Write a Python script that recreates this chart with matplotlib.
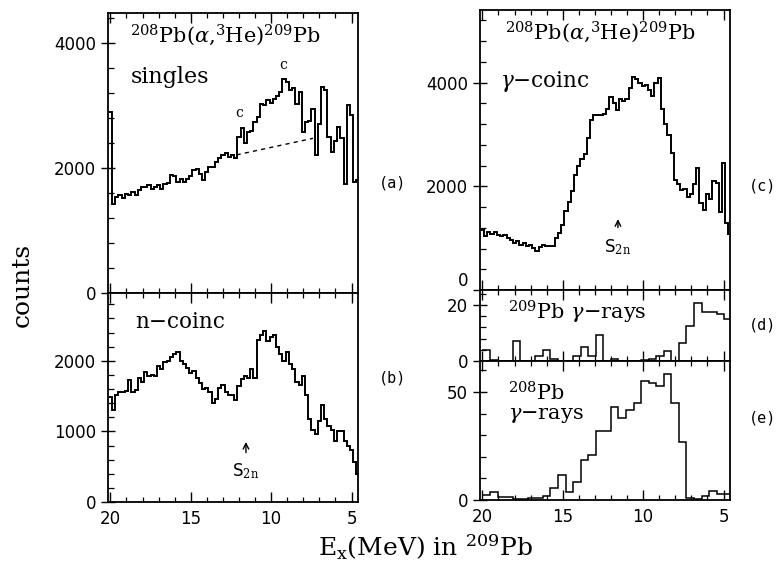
import numpy as np
import matplotlib
matplotlib.use("Agg")
import matplotlib.pyplot as plt
from matplotlib.ticker import MultipleLocator, FixedLocator

plt.rcParams['font.family'] = 'DejaVu Serif'
plt.rcParams['mathtext.fontset'] = 'dejavuserif'

# fine spectra: 0.2 MeV channels, centres 20.0, 19.8, ... 4.6 MeV
singles = [2900, 1420, 1540, 1560, 1520, 1590, 1560, 1610, 1570, 1640,
           1700, 1690, 1720, 1660, 1690, 1720, 1660, 1740, 1760, 1880,
           1870, 1780, 1830, 1780, 1830, 1870, 1960, 1980, 1900, 1800,
           1940, 2010, 2020, 2100, 2160, 2200, 2240, 2170, 2200, 2160,
           2500, 2640, 2400, 2580, 2590, 2740, 2820, 3030, 3000, 3080,
           3040, 3100, 3150, 3220, 3420, 3380, 3250, 3280, 3030, 3220,
           2580, 2740, 2750, 2950, 2200, 2700, 3300, 3250, 2500, 2250,
           2430, 2650, 2480, 1750, 3000, 2850, 1780, 1800]
n_coinc = [1490, 1300, 1520, 1560, 1560, 1570, 1730, 1560, 1590, 1750,
           1700, 1840, 1790, 1800, 1790, 1920, 1880, 1980, 1990, 2060,
           2090, 2130, 2000, 1960, 1900, 1820, 1860, 1760, 1680, 1600,
           1610, 1560, 1400, 1460, 1620, 1650, 1560, 1520, 1510, 1440,
           1640, 1740, 1780, 1760, 1880, 1760, 2300, 2370, 2420, 2280,
           2330, 2370, 2200, 2100, 2000, 2130, 1950, 1880, 1700, 1650,
           1780, 1520, 1180, 1020, 960, 1150, 1380, 1180, 1080, 1020,
           860, 1000, 1010, 860, 800, 730, 560, 400]
g_coinc = [1160, 1050, 1120, 1080, 1110, 1060, 1040, 1070, 1000, 970,
           910, 950, 870, 900, 840, 860, 810, 750, 820, 860,
           840, 840, 850, 1000, 1100, 1250, 1520, 1700, 1900, 2220,
           2400, 2520, 2620, 2930, 3280, 3370, 3380, 3380, 3400, 3500,
           3720, 3600, 3480, 3680, 3650, 3680, 3900, 4110, 4060, 4000,
           3930, 3960, 3850, 3750, 3990, 4090, 3500, 3200, 2980, 2640,
           2120, 2050, 1930, 1950, 1800, 1850, 2050, 2350, 1680, 1550,
           1850, 1760, 2110, 2060, 1500, 2450, 1300, 1080]

# coarse gamma-ray spectra: 0.47 MeV bins starting at 20 MeV
pb209_gam = [3.8, 0.5, 0, 0, 7, 0, 0, 1.7, 3.8, 0.7, 0, 0, 1.7, 4.9, 1.9,
             9.2, 0, 0.8, 0, 0, 0, 0.5, 0.8, 1.9, 3.5, 0, 6.4, 12.4, 20.7,
             17.7, 17.5, 16.8, 15.0]
pb208_gam = [2.5, 3.5, 1.2, 1.5, 0.3, 0.5, 0.8, 1.0, 2.0, 5.5, 11.5, 3.5,
             8.5, 18.5, 21, 32, 32, 43, 38, 41.5, 45, 55, 54, 53, 58.5, 45,
             27, 1, 0.3, 2, 4, 3, 3]

# dashed background line under the (a) peaks, and S2n
bg_x = [12.15, 7.4]
bg_y = [2210, 2475]
s2n = 11.57

fine_edges = 20.1 - 0.2 * np.arange(len(singles) + 1)
coarse_edges = 20.0 - 0.47 * np.arange(len(pb208_gam) + 1)

W, H = 782, 564
fig = plt.figure(figsize=(7.82, 5.64), dpi=100)


def panel(x0, y0, x1, y1):
    # pixel box (left, top, right, bottom) -> axes
    return fig.add_axes([x0 / W, 1 - y1 / H, (x1 - x0) / W, (y1 - y0) / H])


def style(ax, ytop, ymaj, ymin, xlabels):
    ax.set_xlim(20.15, 4.6)
    ax.set_ylim(0, ytop)
    ax.xaxis.set_major_locator(MultipleLocator(5))
    ax.xaxis.set_minor_locator(MultipleLocator(1))
    ax.yaxis.set_major_locator(FixedLocator(ymaj))
    ax.yaxis.set_minor_locator(MultipleLocator(ymin))
    ax.set_yticklabels([str(v) for v in ymaj])
    ax.tick_params(axis='x', which='both', direction='in', top=True,
                   labelbottom=xlabels, labelsize=12, pad=6)
    ax.tick_params(axis='x', which='major', length=7, width=1)
    ax.tick_params(axis='x', which='minor', length=3.5, width=0.9)
    ax.tick_params(axis='y', which='major', direction='inout', length=10,
                   width=1, labelsize=12)
    ax.tick_params(axis='y', which='minor', direction='in', length=4, width=0.9)
    for lab in ax.get_xticklabels() + ax.get_yticklabels():
        lab.set_family('DejaVu Sans')
    for s in ax.spines.values():
        s.set_linewidth(1.3)


def hist(ax, edges, vals, lw=1.4):
    ax.stairs(np.array(vals)[::-1], np.array(edges)[::-1], color='black',
              linewidth=lw, baseline=None)


reaction = r'$^{208}$Pb($\alpha$,$^{3}$He)$^{209}$Pb'

ax_a = panel(108, 13, 358, 293)
hist(ax_a, fine_edges, singles)
ax_a.plot(bg_x, bg_y, color='black', linestyle=(0, (3, 3)), linewidth=1)
style(ax_a, 4480, [0, 2000, 4000], 400, False)
ax_a.text(0.47, 0.92, reaction, transform=ax_a.transAxes, ha='center',
          va='center', fontsize=15)
ax_a.text(0.09, 0.77, 'singles', transform=ax_a.transAxes, ha='left',
          va='center', fontsize=16)
ax_a.text(12.0, 2880, 'c', ha='center', va='center', fontsize=10)
ax_a.text(9.27, 3650, 'c', ha='center', va='center', fontsize=10)

ax_b = panel(108, 293, 358, 502)
hist(ax_b, fine_edges, n_coinc)
style(ax_b, 2960, [0, 1000, 2000], 200, True)
ax_b.text(0.11, 0.86, 'n\u2212coinc', transform=ax_b.transAxes, ha='left',
          va='center', fontsize=15.5)
ax_b.annotate('', xy=(s2n, 890), xytext=(s2n, 660),
              arrowprops=dict(arrowstyle='->', color='black', lw=1))
ax_b.text(s2n, 430, r'S$_{\rm 2n}$', ha='center', va='center', fontsize=12,
          family='DejaVu Sans')

ax_c = panel(480, 10, 730, 290)
hist(ax_c, fine_edges, g_coinc)
style(ax_c, 5400, [0, 2000, 4000], 400, False)
# the zero label sits just above the (d) panel, as in the original
ax_c.yaxis.get_major_ticks()[0].label1.set_verticalalignment('bottom')
ax_c.text(0.48, 0.92, reaction, transform=ax_c.transAxes, ha='center',
          va='center', fontsize=15)
ax_c.text(0.08, 0.745, r'$\gamma$' + '\u2212coinc', transform=ax_c.transAxes,
          ha='left', va='center', fontsize=15.5)
ax_c.annotate('', xy=(s2n, 1420), xytext=(s2n, 1150),
              arrowprops=dict(arrowstyle='->', color='black', lw=1))
ax_c.text(s2n, 830, r'S$_{\rm 2n}$', ha='center', va='center', fontsize=12,
          family='DejaVu Sans')

ax_d = panel(480, 290, 730, 361)
hist(ax_d, coarse_edges, pb209_gam, lw=1.1)
style(ax_d, 25.4, [0, 20], 4, False)
ax_d.text(0.11, 0.68, r'$^{209}$Pb $\gamma$' + '\u2212rays',
          transform=ax_d.transAxes, ha='left', va='center', fontsize=15)

ax_e = panel(480, 361, 730, 500)
hist(ax_e, coarse_edges, pb208_gam, lw=1.1)
style(ax_e, 64.4, [0, 50], 10, True)
ax_e.text(0.11, 0.77, r'$^{208}$Pb', transform=ax_e.transAxes, ha='left',
          va='center', fontsize=15)
ax_e.text(0.11, 0.61, r'$\gamma$' + '\u2212rays', transform=ax_e.transAxes,
          ha='left', va='center', fontsize=15)

for lab, x, y in [('(a)', 393, 183), ('(b)', 393, 378), ('(c)', 763, 186),
                  ('(d)', 763, 325), ('(e)', 763, 418)]:
    fig.text(x / W, 1 - y / H, lab, ha='center', va='center', fontsize=11,
             family='DejaVu Sans Mono')

fig.text(22 / W, 1 - 285 / H, 'counts', rotation=90, ha='center',
         va='center', fontsize=18)
fig.text(425 / W, 1 - 547 / H, r'E$_{\rm x}$(MeV) in $^{209}$Pb',
         ha='center', va='center', fontsize=18)

fig.savefig('out.png', dpi=100)
